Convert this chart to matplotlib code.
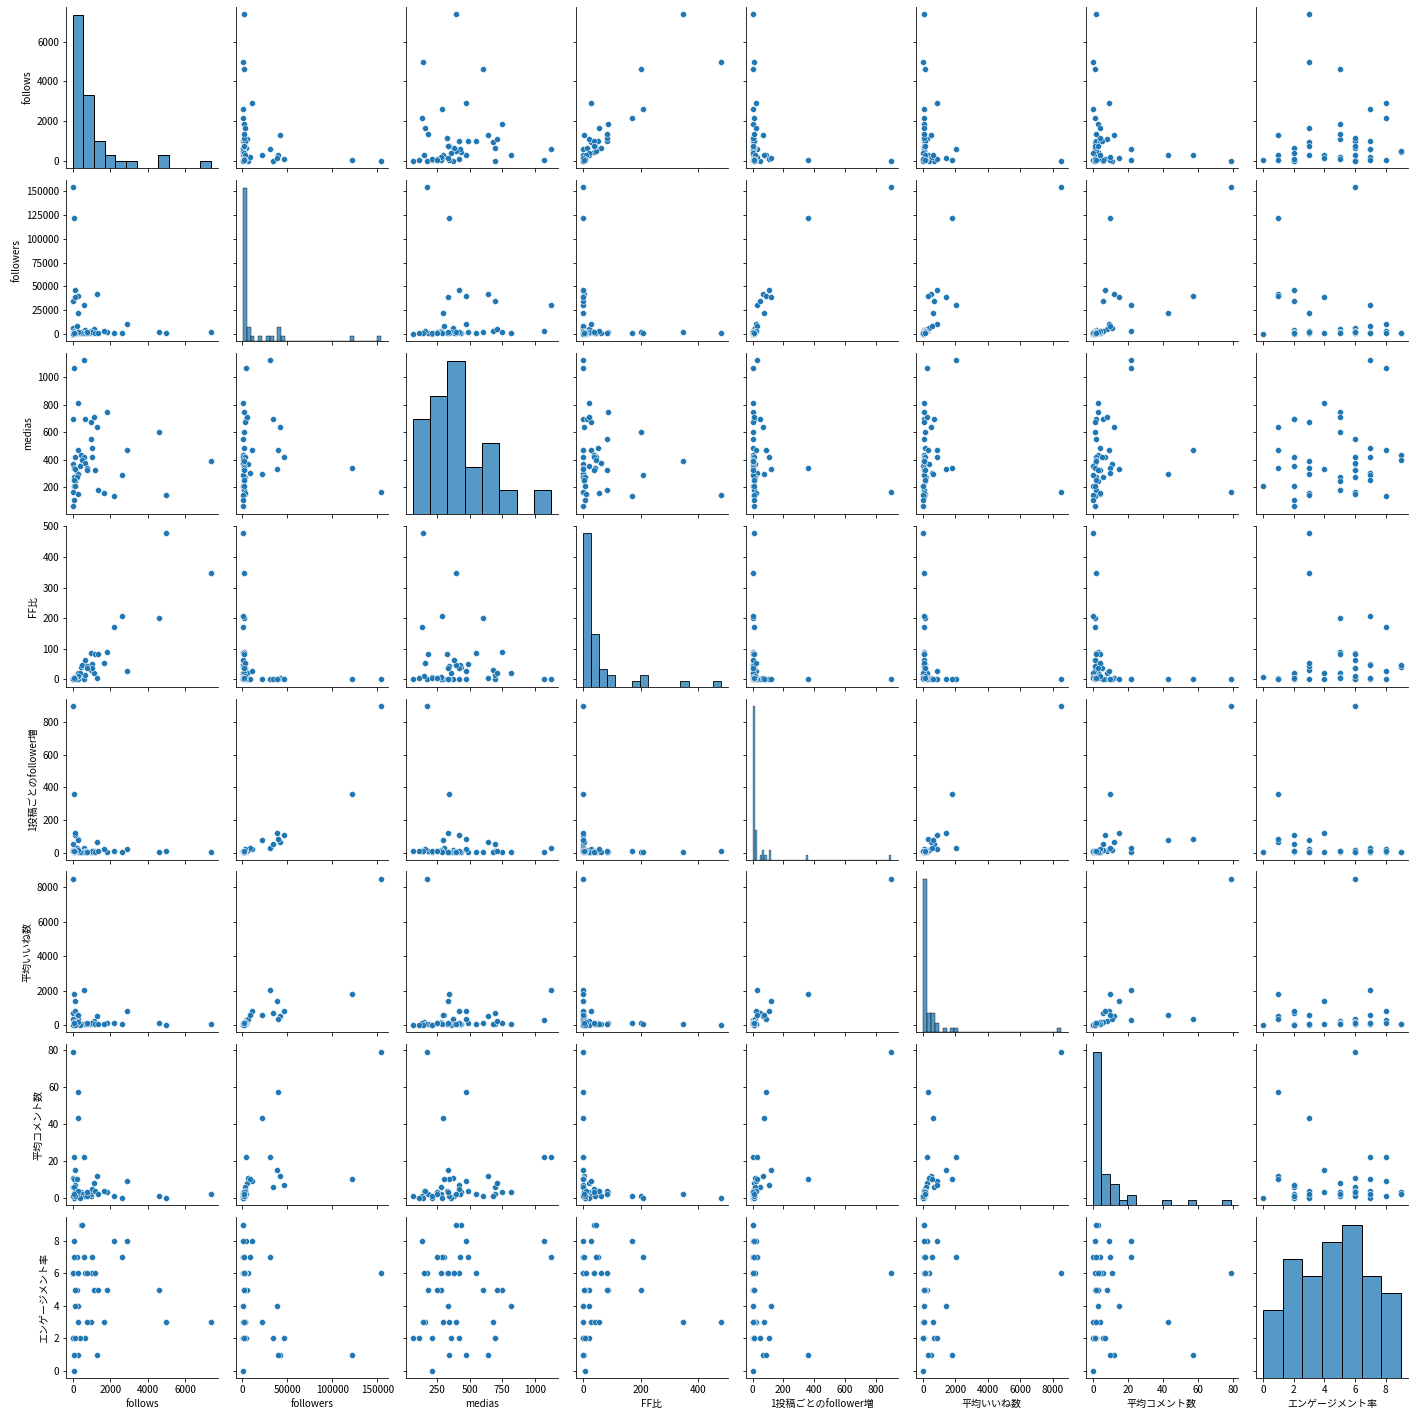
import matplotlib

matplotlib.use("Agg")
import matplotlib.pyplot as plt
import pandas as pd
import seaborn as sns

# one entry per account
follows = [50, 584, 265, 0, 637, 956, 1840, 1115, 1274, 4620,
           991, 1009, 265, 2903, 106, 425, 584, 1009, 0, 478,
           637, 372, 53, 743, 1168, 195, 301, 53, 195, 2602,
           106, 53, 0, 265, 1327, 1646, 2177, 4991, 7380, 53,
           0, 90, 140, 730, 50]
followers = [3800, 30200, 1325, 34400, 4550, 3200, 2090, 5300, 41800, 2300,
             1170, 1980, 39700, 10750, 46000, 1060, 1240, 2650, 6500, 1020,
             1010, 1860, 122000, 1730, 1420, 8400, 21800, 3500, 2440, 1250,
             2200, 700, 154000, 2650, 1620, 3000, 1280, 1044, 2120, 900,
             600, 1500, 39000, 1920, 1700]
medias = [1069, 1125, 813, 696, 696, 675, 747, 711, 638, 601,
          550, 485, 470, 470, 419, 433, 424, 419, 368, 397,
          375, 358, 339, 339, 324, 302, 295, 278, 278, 288,
          244, 212, 168, 149, 178, 156, 134, 142, 390, 105,
          61, 207, 330, 328, 250]
ff_ratio = [1.3, 1.9, 20.0, 0.0, 14.0, 29.9, 88.0, 21.0, 3.0, 200.9,
            84.7, 51.0, 0.7, 27.0, 0.2, 40.1, 47.1, 38.1, 0.0, 46.9,
            63.1, 20.0, 0.04, 42.9, 82.3, 2.3, 1.4, 1.5, 8.0, 208.2,
            4.8, 7.6, 0.0, 10.0, 81.9, 54.9, 170.1, 478.0, 348.1, 5.9,
            0.0, 6.0, 0.4, 38.0, 2.9]
growth_per_post = [3.6, 26.8, 1.6, 49.4, 6.5, 4.7, 2.8, 7.5, 65.5, 3.8,
                   2.1, 4.1, 84.5, 22.9, 109.8, 2.4, 2.9, 6.3, 17.7, 2.6,
                   2.7, 5.2, 359.9, 5.1, 4.4, 27.8, 73.9, 12.6, 8.8, 4.3,
                   9.0, 3.3, 900.0, 17.8, 9.1, 19.2, 9.6, 7.4, 5.4, 8.6,
                   9.8, 7.2, 118.2, 5.9, 6.8]
avg_likes = [280, 2050, 50, 680, 89, 95, 100, 257, 520, 114,
             68, 135, 340, 851, 850, 92, 85, 154, 380, 90,
             60, 37, 1800, 51, 81, 578, 611, 204, 120, 88,
             107, 2, 8500, 155, 79, 86, 101, 31, 62, 18,
             11, 29, 1400, 112, 117]
avg_comments = [22, 22, 3, 6, 2, 1, 3, 8, 12, 1,
                2, 4, 57, 9, 7, 3, 2, 5, 11, 2,
                1, 0, 10, 1, 4, 10, 43, 6, 2, 0,
                3, 0, 79, 4, 2, 4, 1, 0, 2, 0,
                1, 1, 15, 3, 2]
engagement = [8, 7, 4, 2, 2, 3, 5, 5, 1, 5,
              6, 7, 1, 8, 2, 9, 7, 6, 6, 9,
              6, 2, 1, 3, 6, 7, 3, 6, 5, 7,
              5, 0, 6, 6, 5, 3, 8, 3, 3, 2,
              2, 2, 4, 6, 7]

hist_bins = {
    "follows": 13,
    "followers": 36,
    "medias": 8,
    "FF比": 17,
    "1投稿ごとのfollower増": 60,
    "平均いいね数": 35,
    "平均コメント数": 16,
    "エンゲージメント率": 7,
}

plt.rcParams["font.family"] = ["Noto Sans CJK JP", "DejaVu Sans"]

df = pd.DataFrame({
    "follows": follows,
    "followers": followers,
    "medias": medias,
    "FF比": ff_ratio,
    "1投稿ごとのfollower増": growth_per_post,
    "平均いいね数": avg_likes,
    "平均コメント数": avg_comments,
    "エンゲージメント率": engagement,
})


def diag_hist(x, **kws):
    sns.histplot(x=x, bins=hist_bins.get(x.name, "auto"), **kws)


g = sns.PairGrid(df, height=2.5, diag_sharey=False)
g.map_offdiag(sns.scatterplot)
g.map_diag(diag_hist)

fig = g.figure
fig.set_size_inches(1415 / 72, 1415 / 72)
fig.subplots_adjust(left=0.0466, right=0.995, top=0.995, bottom=0.026,
                    wspace=0.118, hspace=0.074)
fig.savefig("out.png", dpi=72)
plt.close(fig)
